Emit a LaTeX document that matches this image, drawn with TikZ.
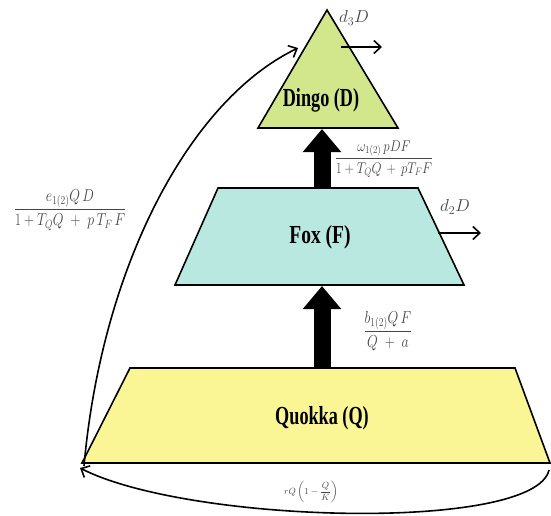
\documentclass[tikz,border=0pt]{standalone}
\usepackage{amsmath}
\usepackage{fontspec}
\setmainfont{Liberation Serif}
\usepackage{graphicx}
\usetikzlibrary{arrows.meta}
\definecolor{dingocol}{RGB}{210,230,140}
\definecolor{foxcol}{RGB}{184,232,224}
\definecolor{quokkacol}{RGB}{250,246,150}
\definecolor{labgray}{RGB}{70,70,70}
\tikzset{
  level/.style={draw=black, line width=1.6pt, line join=miter},
  title/.style={inner sep=0pt, font=\fontsize{26}{28}\selectfont\bfseries},
  flabel/.style={inner sep=0pt, text=labgray, font=\fontsize{18}{20}\selectfont},
  dlabel/.style={inner sep=0pt, text=labgray, font=\fontsize{17}{19}\selectfont},
  bigarrow/.style={line width=17pt, -{Triangle[length=23pt,width=37pt]}},
  thinarrow/.style={line width=1.6pt, -{Straight Barb[length=7pt,width=13pt]}},
}
\begin{document}
\begin{tikzpicture}[x=1pt,y=-1pt]
\useasboundingbox (0,0) rectangle (551,516);
% corners
\coordinate (DA) at (327,10);
\coordinate (DL) at (258,128);
\coordinate (DR) at (398,128);
\coordinate (FTL) at (218,188);
\coordinate (FTR) at (418,188);
\coordinate (FBR) at (464,285);
\coordinate (FBL) at (175,285);
\coordinate (QTL) at (130,368);
\coordinate (QTR) at (515,368);
\coordinate (QBR) at (550,463);
\coordinate (QBL) at (82,463);
% shapes
\filldraw[level, fill=dingocol] (DA) -- (DR) -- (DL) -- cycle;
\filldraw[level, fill=foxcol] (FTL) -- (FTR) -- (FBR) -- (FBL) -- cycle;
\filldraw[level, fill=quokkacol] (QTL) -- (QTR) -- (QBR) -- (QBL) -- cycle;
% titles
\node[title] (dingo) at (321,100) {\scalebox{0.7}[1]{Dingo (D)}};
\node[title] (fox) at (320,237) {\scalebox{0.75}[1]{Fox (F)}};
\node[title] (quokka) at (322,418) {\scalebox{0.7}[1]{Quokka (Q)}};
% thick arrows
\coordinate (qtop) at (322,368);
\coordinate (fbot) at (322,286);
\coordinate (ftop) at (322,188);
\coordinate (dbot) at (322,129);
\draw[bigarrow] (qtop) -- (fbot);
\draw[bigarrow] (ftop) -- (dbot);
% death arrows
\coordinate (d3s) at (341,47);
\coordinate (d3e) at (382,47);
\draw[thinarrow] (d3s) -- (d3e);
\node[dlabel] (d3lab) at (354,18) {$d_3D$};
\coordinate (d2s) at (438,233);
\coordinate (d2e) at (481,233);
\draw[thinarrow] (d2s) -- (d2e);
\node[dlabel] (d2lab) at (455,207) {$d_2D$};
% curved arrows
\coordinate (arcS) at (84,466);
\coordinate (arcE) at (298,48);
\draw[thinarrow] (arcS) .. controls (102,265) and (190,100) .. (arcE);
\coordinate (botS) at (549,470);
\coordinate (botE) at (80,468);
\draw[thinarrow] (botS) .. controls (535,532) and (190,524) .. (botE);
% formulas
\node[flabel] (fD) at (384,159) {\scalebox{0.75}[0.9]{$\dfrac{\omega_{1(2)}\,p D F}{1+T_Q Q\,+\,p T_F F}$}};
\node[flabel] (fE) at (70,210) {\scalebox{0.8}[1]{$\dfrac{e_{1(2)} Q\,D}{1+T_Q Q\;+\;p\,T_F\,F}$}};
\node[flabel] (fB) at (388,331) {\scalebox{0.8}[1]{$\dfrac{b_{1(2)} Q\,F}{Q\;+\;a}$}};
\node[inner sep=0pt, text=labgray, font=\fontsize{9}{10}\selectfont] (fR) at (311,492) {$rQ\left(1-\dfrac{Q}{K}\right)$};
\end{tikzpicture}
\end{document}
